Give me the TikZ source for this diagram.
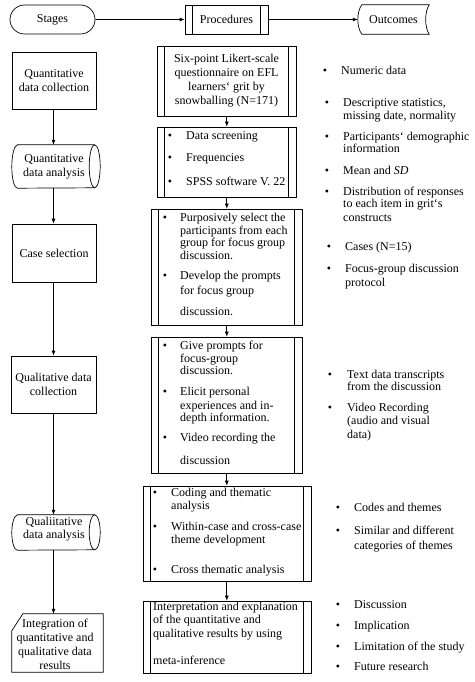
\documentclass[tikz,border=0pt]{standalone}
\usepackage{fontspec}
\setmainfont{Liberation Serif}
\usetikzlibrary{shapes.misc,arrows.meta}
\newcommand\procln[1]{\draw[ln] ([xshift=8pt]#1.north west) -- ([xshift=8pt]#1.south west) ([xshift=-8pt]#1.north east) -- ([xshift=-8pt]#1.south east);}
\newcommand\mtl[4]{\node[mt] (#1) at (#2,#3) {#4};}
\newcommand\mbl[3]{\node[mb] (#1) at (#2,#3) {\textbullet};}
\begin{document}
\begin{tikzpicture}[x=1pt,y=-1pt,
  ln/.style={line width=0.7pt},
  box/.style={ln, draw, rectangle, inner sep=0pt, align=center, font=\fontsize{12}{14}\selectfont},
  shp/.style={inner sep=0pt, align=center, font=\fontsize{12}{14}\selectfont},
  arr/.style={ln, -{Latex[length=5pt,width=4pt]}},
  mt/.style={anchor=west, inner sep=0pt, font=\fontsize{12}{14}\selectfont, text height=8pt, text depth=2.5pt},
  mb/.style={anchor=center, inner sep=0pt, font=\fontsize{12}{14}\selectfont, text height=8pt, text depth=2.5pt}]
\useasboundingbox (0,0) rectangle (474,682);
\fill[white] (0,0) rectangle (474,682);

% header
\node[box, rounded rectangle, minimum width=85pt, minimum height=29pt] (stg) at (52.5,19.5) {Stages};
\node[box, minimum width=83pt, minimum height=29pt] (prc) at (226.5,19.5) {Procedures};
\procln{prc}
\node[shp, minimum width=71pt, minimum height=29pt] (otc) at (393.5,19.5) {Outcomes};
\draw[ln] ([xshift=4pt]otc.north west) -- (otc.north east)
  .. controls ([xshift=-4.7pt,yshift=-7pt]otc.north east) and ([xshift=-4.7pt,yshift=7pt]otc.south east) .. (otc.south east)
  -- ([xshift=4pt]otc.south west)
  .. controls ([xshift=-1.3pt,yshift=7pt]otc.south west) and ([xshift=-1.3pt,yshift=-7pt]otc.north west) .. ([xshift=4pt]otc.north west) -- cycle;
\draw[arr] (stg) -- (prc);
\draw[arr] (prc) -- (otc);

% left column
\coordinate (lx) at (53.5,0);
\node[box, minimum width=84pt, minimum height=57pt] (qcol) at (54,80.5) {Quantitative\\data collection};
\node[shp, minimum width=84pt, minimum height=43pt] (qana) at (54,166.5) {Quantitative\\data analysis};
\draw[ln] ([xshift=5.5pt]qana.north west) -- ([xshift=-1.5pt]qana.north east)
  arc[start angle=90, end angle=-90, x radius=5.5pt, y radius=21.5pt]
  -- ([xshift=5.5pt]qana.south west)
  arc[start angle=270, end angle=90, x radius=5.5pt, y radius=21.5pt] -- cycle;
\draw[ln] ([xshift=-1.5pt]qana.north east) arc[start angle=90, end angle=270, x radius=5.5pt, y radius=21.5pt];
\node[box, minimum width=84pt, minimum height=58pt] (case) at (54,253) {Case selection};
\node[box, minimum width=85pt, minimum height=57pt] (lcol) at (53.5,384.5) {Qualitative data\\collection};
\node[shp, minimum width=84pt, minimum height=35pt] (lana) at (54,532.5) {};
\draw[ln] ([xshift=5.5pt]lana.north west) -- ([xshift=-1.5pt]lana.north east)
  arc[start angle=90, end angle=-90, x radius=5.5pt, y radius=17.5pt]
  -- ([xshift=5.5pt]lana.south west)
  arc[start angle=270, end angle=90, x radius=5.5pt, y radius=17.5pt] -- cycle;
\draw[ln] ([xshift=-1.5pt]lana.north east) arc[start angle=90, end angle=270, x radius=5.5pt, y radius=17.5pt];
\node[shp, font=\fontsize{12}{13}\selectfont] (lanat) at (54,529.5) {Qualiitative\\data analysis};
\node[shp, minimum width=91pt, minimum height=58pt] (intg) at (57.5,643) {};
\draw[ln] ([yshift=-17pt]intg.north west) -- ([xshift=11pt]intg.north west) -- (intg.north east) -- (intg.south east) -- (intg.south west) -- cycle;
\node[shp] (intgt) at (55,644) {Integration of\\quantitative and\\qualitative data\\results};
\draw[arr] (lx |- qcol.south) -- (lx |- qana.north);
\draw[arr] (lx |- qana.south) -- (lx |- case.north);
\draw[arr] (lx |- case.south) -- (lx |- lcol.north);
\draw[arr] (lx |- lcol.south) -- (lx |- lana.north);
\draw[arr] (lx |- lana.south) -- (lx |- intg.north);

% middle column
\coordinate (mx) at (226.8,0);
\node[box, minimum width=139pt, minimum height=70pt] (b1) at (226.5,81) {Six-point Likert-scale\\questionnaire on EFL\\learners‘ grit by\\snowballing (N=171)};
\procln{b1}
\node[box, minimum width=139pt, minimum height=70pt] (b2) at (226.5,162) {};
\procln{b2}
\node[box, minimum width=151pt, minimum height=116pt] (b3) at (226.5,267) {};
\procln{b3}
\node[box, minimum width=151pt, minimum height=136pt] (b4) at (226.5,405) {};
\procln{b4}
\node[box, minimum width=168pt, minimum height=95pt] (b5) at (227,533.5) {};
\procln{b5}
\node[box, minimum width=168pt, minimum height=72pt] (b6) at (227,637) {};
\procln{b6}
\draw[arr] (mx |- b1.south) -- (mx |- b2.north);
\draw[arr] (mx |- b2.south) -- (mx |- b3.north);
\draw[arr] (mx |- b3.south) -- (mx |- b4.north);
\draw[arr] (mx |- b4.south) -- (mx |- b5.north);
\draw[arr] (mx |- b5.south) -- (mx |- b6.north);

% b2 text
\mbl{b2d1}{170}{137} \mtl{b2t1}{186}{137}{Data screening}
\mbl{b2d2}{170}{159} \mtl{b2t2}{186}{159}{Frequencies}
\mbl{b2d3}{170}{183} \mtl{b2t3}{186}{183}{SPSS software V. 22}
% b3 text
\mbl{b3d1}{165}{219} \mtl{b3t1}{180}{219}{Purposively select the}
\mtl{b3t2}{180}{231.5}{participants from each}
\mtl{b3t3}{180}{244}{group for focus group}
\mtl{b3t4}{180}{257}{discussion.}
\mbl{b3d2}{165}{277} \mtl{b3t5}{180}{277}{Develop the prompts}
\mtl{b3t6}{180}{291.5}{for focus group}
\mtl{b3t7}{180}{313}{discussion.}
% b4 text
\mbl{b4d1}{165}{347} \mtl{b4t1}{180}{347}{Give prompts for}
\mtl{b4t2}{180}{360}{focus-group}
\mtl{b4t3}{180}{372}{discussion.}
\mbl{b4d2}{165}{393} \mtl{b4t4}{180}{393}{Elicit personal}
\mtl{b4t5}{180}{406.5}{experiences and in-}
\mtl{b4t6}{180}{418.5}{depth information.}
\mbl{b4d3}{165}{439} \mtl{b4t7}{180}{439}{Video recording the}
\mtl{b4t8}{180}{462}{discussion}
% b5 text
\mbl{b5d1}{155}{494} \mtl{b5t1}{171}{494}{Coding and thematic}
\mtl{b5t2}{171}{507}{analysis}
\mbl{b5d2}{155}{528} \mtl{b5t3}{171}{528}{Within-case and cross-case}
\mtl{b5t4}{171}{541}{theme development}
\mbl{b5d3}{155}{571} \mtl{b5t5}{171}{571}{Cross thematic analysis}
% b6 text
\mtl{b6t1}{153}{608}{Interpretation and explanation}
\mtl{b6t2}{153}{621}{of the quantitative and}
\mtl{b6t3}{153}{635}{qualitative results by using}
\mtl{b6t4}{153}{662}{meta-inference}

% right column
\mbl{r1d}{325}{72} \mtl{r1t}{341}{72}{Numeric data}
\mbl{r2d}{327}{104} \mtl{r2t}{343}{104}{Descriptive statistics,}
\mtl{r2u}{343}{116.5}{missing date, normality}
\mbl{r3d}{327}{138} \mtl{r3t}{343}{138}{Participants‘ demographic}
\mtl{r3u}{343}{150}{information}
\mbl{r4d}{327}{172} \mtl{r4t}{343}{172}{Mean and \textit{SD}}
\mbl{r5d}{327}{193} \mtl{r5t}{343}{193}{Distribution of responses}
\mtl{r5u}{343}{205}{to each item in grit‘s}
\mtl{r5v}{343}{219}{constructs}
\mbl{r6d}{329}{248} \mtl{r6t}{345}{248}{Cases (N=15)}
\mbl{r7d}{329}{270} \mtl{r7t}{345}{270}{Focus-group discussion}
\mtl{r7u}{345}{284}{protocol}
\mbl{r8d}{330}{376} \mtl{r8t}{347}{376}{Text data transcripts}
\mtl{r8u}{347}{388}{from the discussion}
\mbl{r9d}{330}{409} \mtl{r9t}{347}{409}{Video Recording}
\mtl{r9u}{347}{422}{(audio and visual}
\mtl{r9v}{347}{436}{data)}
\mbl{r10d}{338}{509} \mtl{r10t}{354}{509}{Codes and themes}
\mbl{r11d}{338}{532} \mtl{r11t}{354}{532}{Similar and different}
\mtl{r11u}{354}{547}{categories of themes}
\mbl{r12d}{338}{606} \mtl{r12t}{354}{606}{Discussion}
\mbl{r13d}{338}{627} \mtl{r13t}{354}{627}{Implication}
\mbl{r14d}{338}{648} \mtl{r14t}{354}{648}{Limitation of the study}
\mbl{r15d}{338}{668} \mtl{r15t}{354}{668}{Future research}
\end{tikzpicture}
\end{document}
